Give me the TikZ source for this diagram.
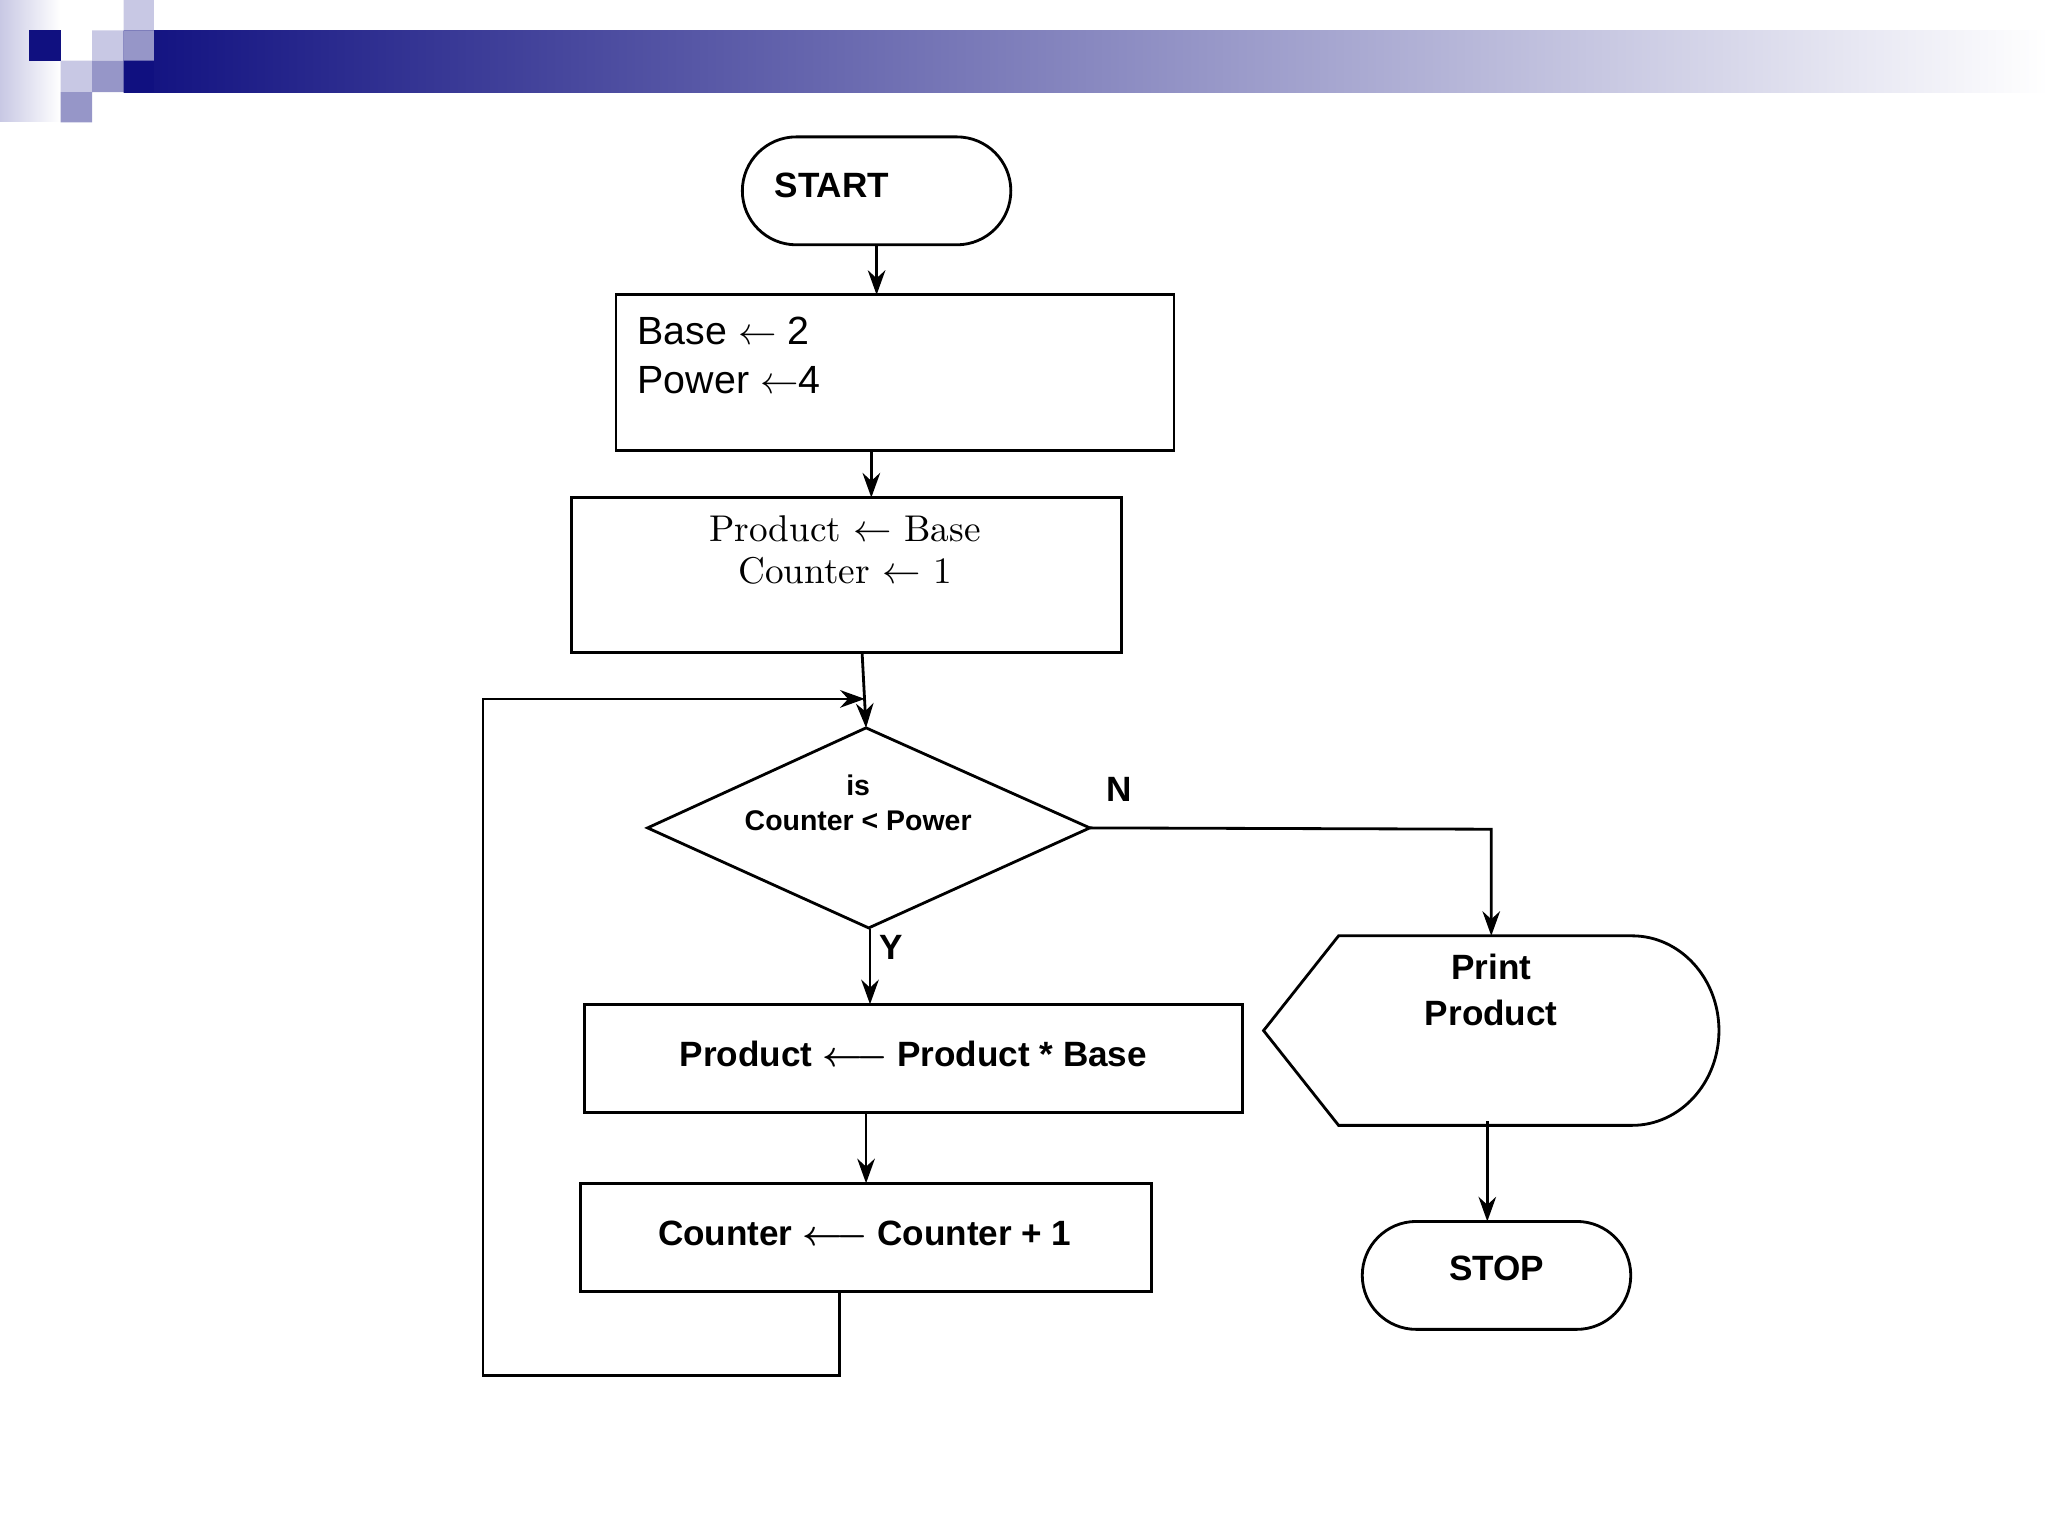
\documentclass[tikz,border=0pt]{standalone}
\usepackage{amsmath}
\usepackage{fontspec}
\setmainfont{Liberation Sans}
\newfontfamily\serifcm{Latin Modern Roman}
\usetikzlibrary{arrows.meta, positioning, shapes.misc}
\definecolor{navy}{RGB}{16,16,128}
\definecolor{lav}{RGB}{200,200,228}
\definecolor{lavmid}{RGB}{150,150,200}

\begin{document}
\begin{tikzpicture}[x=0.013162cm,y=-0.013162cm,>={Stealth[length=7pt,width=5pt]},
        every node/.style={inner sep=0pt},
        proc/.style={draw, thick, rectangle},
        term/.style={draw, thick, rounded rectangle, minimum width=204*0.013162cm, minimum height=82*0.013162cm},
        lbl/.style={font=\fontsize{10}{13}\selectfont\bfseries},
        flow/.style={thick,->}]
      \useasboundingbox (0,0) rectangle (1556,1167);
      % header
      \shade[left color=lav, right color=white] (0,0) rectangle (46,92);
      \shade[left color=navy, right color=white] (94,23) rectangle (1556,70);
      \fill[navy] (22,23) rectangle (46,46);
      \fill[lav] (70,23) rectangle (94,46) (94,0) rectangle (117,23) (46,46) rectangle (70,70);
      \fill[lavmid] (94,23) rectangle (117,46) (70,46) rectangle (94,70) (46,70) rectangle (70,93);
      \fill[navy] (94,46) rectangle (117,70);

      \node[term] (start) at (666,145) {};
      \node[lbl] at (632,141) {START};
      \node[proc, minimum width=424*0.013162cm, minimum height=118*0.013162cm] (init) at (680,283) {};
      \node[anchor=west, align=left, font=\fontsize{11.2}{14}\selectfont] at (484,270) {Base $\leftarrow$ 2\\Power $\leftarrow$4};
      \node[proc, minimum width=418*0.013162cm, minimum height=118*0.013162cm] (setp) at (643,437) {};
      \node[align=center, font=\serifcm\fontsize{10.6}{11.8}\selectfont] at (642,418) {Product $\leftarrow$ Base\\Counter $\leftarrow$ 1};
      \coordinate (dt) at (658,553);
      \coordinate (dl) at (492,629);
      \coordinate (dr) at (828,629);
      \coordinate (db) at (660,705);
      \draw[thick] (dt) -- (dr) -- (db) -- (dl) -- cycle;
      \node[align=center, font=\fontsize{8.1}{9.8}\selectfont\bfseries] (test) at (652,610) {is\\Counter < Power};
      \node[lbl] (no) at (850,600) {N};
      \node[lbl] (yes) at (677,720) {Y};
      \node[proc, minimum width=500*0.013162cm, minimum height=82*0.013162cm] (mult) at (694,804) {};
      \node[lbl] at (694,801) {Product $\boldsymbol{\longleftarrow}$ Product * Base};
      \node[proc, minimum width=434*0.013162cm, minimum height=82*0.013162cm] (incr) at (658,940) {};
      \node[lbl] at (657,937) {Counter $\boldsymbol{\longleftarrow}$ Counter + 1};
      \draw[thick] (960,783) -- (1017,711) -- (1240,711) arc[start angle=-90,end angle=90,x radius=66,y radius=72] -- (1017,855) -- cycle;
      \node[lbl, align=center] (print) at (1133,752) {Print\\Product};
      \node[term] (stop) at (1137,969) {};
      \node[lbl] at (1137,964) {STOP};

      \coordinate (c1) at (666,186);
      \coordinate (c2) at (662,342);
      \coordinate (c3) at (655,496);
      \coordinate (c4) at (661,706);
      \coordinate (c5) at (658,845);
      \coordinate (c6) at (638,981);
      \coordinate (c7) at (1133,711);
      \coordinate (c8) at (1130,852);
      \draw[flow] (c1) -- (666,224);
      \draw[flow] (c2) -- (662,378);
      \draw[flow] (c3) -- (dt);
      \draw[flow] (c4) -- (661,763);
      \draw[flow] (c5) -- (658,899);
      \draw[flow] (c6) -- (638,1045) -- (367,1045) -- (367,531) -- (657,531);
      \draw[flow] (dr) -- (1133,630) -- (c7);
      \draw[flow] (c8) -- (1130,928);
\end{tikzpicture}
\end{document}
